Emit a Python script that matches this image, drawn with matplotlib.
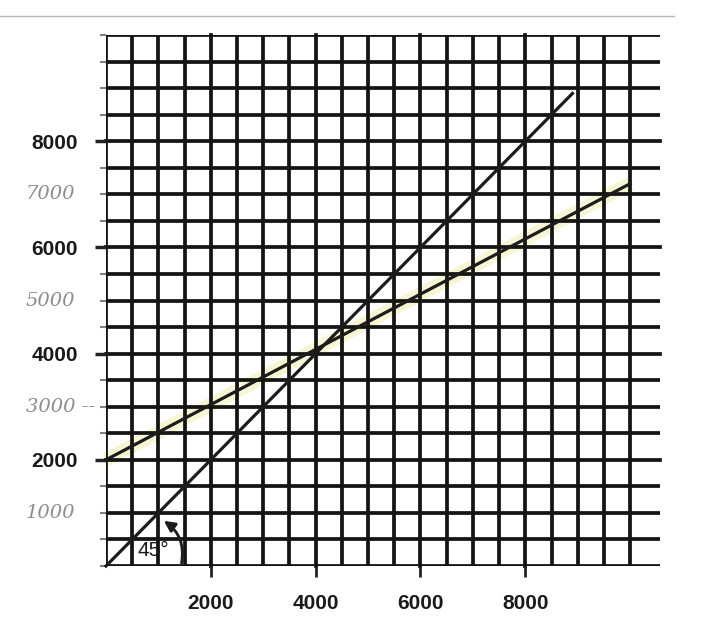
import numpy as np
import matplotlib.pyplot as plt
from matplotlib.lines import Line2D

# values
diag_x = [0, 8900]           # 45 degree line
diag_y = [0, 8900]
slope_x = [0, 10000]         # shallower line (highlighted)
slope_y = [2000, 7200]

x_ticks = [2000, 4000, 6000, 8000]
y_ticks = [2000, 4000, 6000, 8000]
y_hand = [1000, 3000, 5000, 7000]          # handwritten labels
y_hand_text = ['1000', '3000 --', '5000', '7000']
grid_step = 500

fig = plt.figure(figsize=(7.04, 6.32), dpi=100)
ax = fig.add_axes([106 / 704, 66 / 632, 554 / 704, 531 / 632])
ax.set_xlim(0, 10570)
ax.set_ylim(0, 10000)
for s in ax.spines.values():
    s.set_visible(False)

# graph paper grid
ax.set_xticks(np.arange(0, 10001, grid_step), minor=True)
ax.set_yticks(np.arange(0, 10001, grid_step), minor=True)
ax.set_xticks(x_ticks)
ax.set_yticks(y_ticks)
ax.grid(True, which='both', color='#141414', lw=2.7)
ax.set_axisbelow(True)
for gl in ax.get_xgridlines() + ax.get_ygridlines():
    gl.set_clip_on(False)

ax.tick_params(axis='x', which='major', direction='out', length=8, width=2,
               color='#222222', labelsize=15, pad=12, labelcolor='#1a1a1a')
ax.tick_params(axis='y', which='major', direction='out', length=8, width=2.5,
               color='#222222', labelsize=15, pad=12, labelcolor='#1a1a1a')
ax.tick_params(axis='x', which='minor', length=0)
ax.tick_params(axis='y', which='minor', direction='out', length=4, width=1.5,
               color='#808080')
for lab in ax.get_xticklabels() + ax.get_yticklabels():
    lab.set_fontfamily('Liberation Sans')
    lab.set_fontweight('bold')

# handwritten pencil labels
for v, t in zip(y_hand, y_hand_text):
    ax.annotate(t, xy=(0, v), xycoords=('axes fraction', 'data'),
                xytext=(-80, 0), textcoords='offset pixels',
                ha='left', va='center', fontsize=14, style='italic',
                family='DejaVu Serif', color='#8c8c8c')

# yellow highlighter under the shallow line
ax.plot(slope_x, slope_y, color='#f8f5d2', lw=10, solid_capstyle='butt',
        zorder=0.3, clip_on=False)

ax.plot(diag_x, diag_y, color='#1c1c1c', lw=2.3, zorder=3, clip_on=False)
ax.plot(slope_x, slope_y, color='#1c1c1c', lw=2.3, zorder=3, clip_on=False)

# 45 degree angle mark
ax.annotate('', xy=(1060, 880), xytext=(1430, 0),
            arrowprops=dict(arrowstyle='-|>', color='#1c1c1c', lw=2,
                            mutation_scale=16,
                            connectionstyle='arc3,rad=0.35'),
            zorder=4)
ax.text(900, 300, '45°', fontsize=15, family='Liberation Sans',
        color='#1a1a1a', ha='center', va='center', zorder=5)

# scan edge at the top
fig.add_artist(Line2D([0, 674 / 704], [1 - 16 / 632, 1 - 16 / 632],
                      color='#b5b5b5', lw=1))

fig.savefig('out.png', dpi=100)
